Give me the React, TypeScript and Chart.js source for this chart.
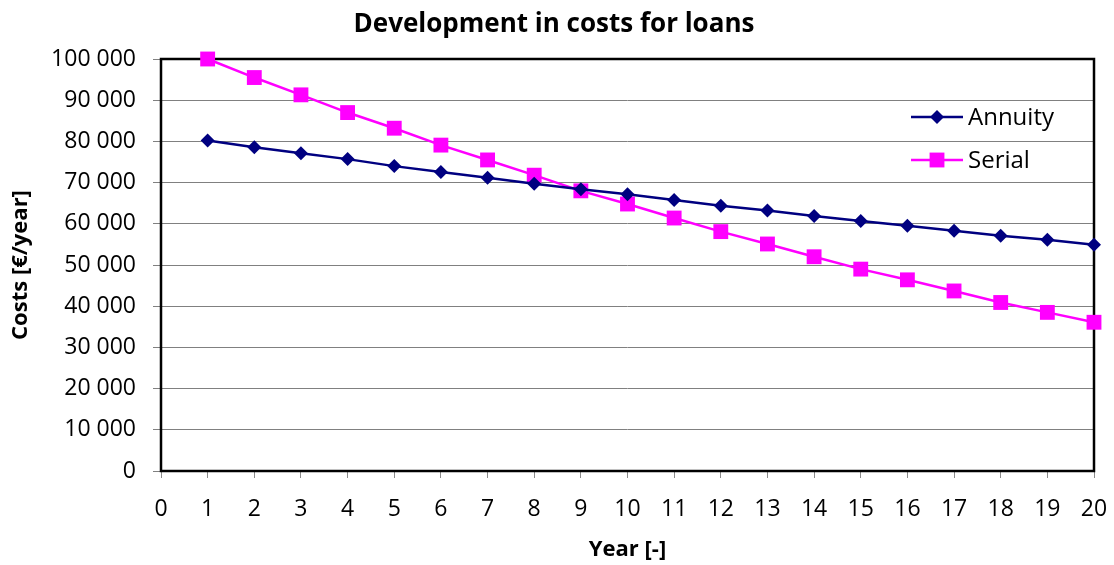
import React, { useEffect, useRef } from "react";
import { Chart, registerables } from "chart.js";

Chart.register(...registerables);

const years = [1, 2, 3, 4, 5, 6, 7, 8, 9, 10, 11, 12, 13, 14, 15, 16, 17, 18, 19, 20];
const annuity = [80200, 78600, 77100, 75700, 74000, 72600, 71200, 69700, 68400, 67200, 65800, 64400, 63200, 61900, 60700, 59500, 58300, 57100, 56100, 54900];
const serial = [100000, 95500, 91300, 87000, 83200, 79100, 75500, 71800, 68000, 64800, 61400, 58100, 55100, 52000, 49000, 46400, 43700, 40900, 38500, 36100];
const seriesNames = ["Annuity", "Serial"];
const titleText = "Development in costs for loans";
const xTitle = "Year [-]";
const yTitle = "Costs [€/year]";

const FONT = "'Open Sans', sans-serif";
const NAVY = "#000080";
const MAGENTA = "#FF00FF";

const fmt = (v: number) => String(v).replace(/\B(?=(\d{3})+(?!\d))/g, " ");

function drawMarker(ctx: CanvasRenderingContext2D, style: string, x: number, y: number, r: number, color: string) {
  ctx.save();
  ctx.fillStyle = color;
  ctx.beginPath();
  if (style === "rectRot") {
    ctx.moveTo(x - r, y);
    ctx.lineTo(x, y - r);
    ctx.lineTo(x + r, y);
    ctx.lineTo(x, y + r);
    ctx.closePath();
  } else {
    const h = Math.SQRT1_2 * r;
    ctx.rect(x - h, y - h, 2 * h, 2 * h);
  }
  ctx.fill();
  ctx.restore();
}

const framePlugin = {
  id: "frame",
  beforeDatasetsDraw(chart: any) {
    const { ctx, chartArea: a } = chart;
    ctx.save();
    ctx.strokeStyle = "#000";
    ctx.lineWidth = 2.5;
    ctx.strokeRect(a.left, a.top, a.right - a.left, a.bottom - a.top);
    ctx.restore();
  },
  afterDraw(chart: any) {
    const { ctx, chartArea: a } = chart;
    ctx.save();
    // title
    ctx.fillStyle = "#000";
    ctx.font = `bold 26px ${FONT}`;
    ctx.textAlign = "center";
    ctx.textBaseline = "middle";
    ctx.fillText(titleText, 554, 25);
    // legend
    const entries = [
      { name: seriesNames[0], color: NAVY, style: "rectRot", r: 7, y: a.top + 58 },
      { name: seriesNames[1], color: MAGENTA, style: "rect", r: 10.5, y: a.top + 101 },
    ];
    const x0 = a.right - 183;
    entries.forEach((e) => {
      ctx.strokeStyle = e.color;
      ctx.lineWidth = 2.5;
      ctx.beginPath();
      ctx.moveTo(x0, e.y);
      ctx.lineTo(x0 + 52, e.y);
      ctx.stroke();
      drawMarker(ctx, e.style, x0 + 26, e.y, e.r, e.color);
      ctx.fillStyle = "#000";
      ctx.font = `24px ${FONT}`;
      ctx.textAlign = "left";
      ctx.textBaseline = "middle";
      ctx.fillText(e.name, x0 + 57, e.y + 1);
    });
    ctx.restore();
  },
};

export default function App() {
  const ref = useRef<HTMLCanvasElement>(null);
  useEffect(() => {
    if (!ref.current) return;
    const chart = new Chart(ref.current, {
      type: "line",
      data: {
        datasets: [
          {
            label: seriesNames[0],
            data: years.map((x, i) => ({ x, y: annuity[i] })),
            borderColor: NAVY,
            backgroundColor: NAVY,
            borderWidth: 2.5,
            pointStyle: "rectRot",
            pointRadius: 7,
            pointBorderWidth: 0,
            pointHoverRadius: 7,
            tension: 0,
            clip: false,
          },
          {
            label: seriesNames[1],
            data: years.map((x, i) => ({ x, y: serial[i] })),
            borderColor: MAGENTA,
            backgroundColor: MAGENTA,
            borderWidth: 2.5,
            pointStyle: "rect",
            pointRadius: 10.5,
            pointBorderWidth: 0,
            pointHoverRadius: 10.5,
            tension: 0,
            clip: false,
          },
        ],
      },
      options: {
        animation: false,
        responsive: true,
        maintainAspectRatio: false,
        layout: { padding: { top: 59, right: 20, left: 0, bottom: 0 } },
        plugins: {
          legend: { display: false },
          title: { display: false },
          tooltip: { enabled: false },
        },
        scales: {
          x: {
            type: "linear",
            min: 0,
            max: 20,
            afterFit: (s: any) => {
              s.height = 94;
              s.paddingLeft = 0;
              s.paddingRight = 0;
            },
            ticks: {
              stepSize: 1,
              color: "#000",
              font: { family: FONT, size: 23 },
              padding: 18,
              maxRotation: 0,
              autoSkip: false,
            },
            grid: { drawOnChartArea: false, drawTicks: true, tickLength: 7, tickColor: "#8a8a8a" },
            border: { display: false },
            title: {
              display: true,
              text: xTitle,
              color: "#000",
              font: { family: FONT, size: 22, weight: "bold" },
              padding: { top: 0, bottom: 2 },
            },
          },
          y: {
            min: 0,
            max: 100000,
            afterFit: (s: any) => {
              s.width = 161;
              s.paddingTop = 0;
              s.paddingBottom = 0;
            },
            ticks: {
              stepSize: 10000,
              color: "#000",
              font: { family: FONT, size: 23 },
              padding: 17,
              callback: (v: any) => fmt(Number(v)),
            },
            grid: { color: "#808080", lineWidth: 1, drawTicks: true, tickLength: 8, tickColor: "#808080" },
            border: { display: false },
            title: {
              display: true,
              text: yTitle,
              color: "#000",
              font: { family: FONT, size: 22, weight: "bold" },
              padding: { top: 8, bottom: 0 },
            },
          },
        },
      } as any,
      plugins: [framePlugin],
    });
    return () => chart.destroy();
  }, []);
  return (
    <div style={{ position: "absolute", left: 0, top: 0, width: 1114, height: 565, background: "#fff" }}>
      <canvas ref={ref} />
    </div>
  );
}
